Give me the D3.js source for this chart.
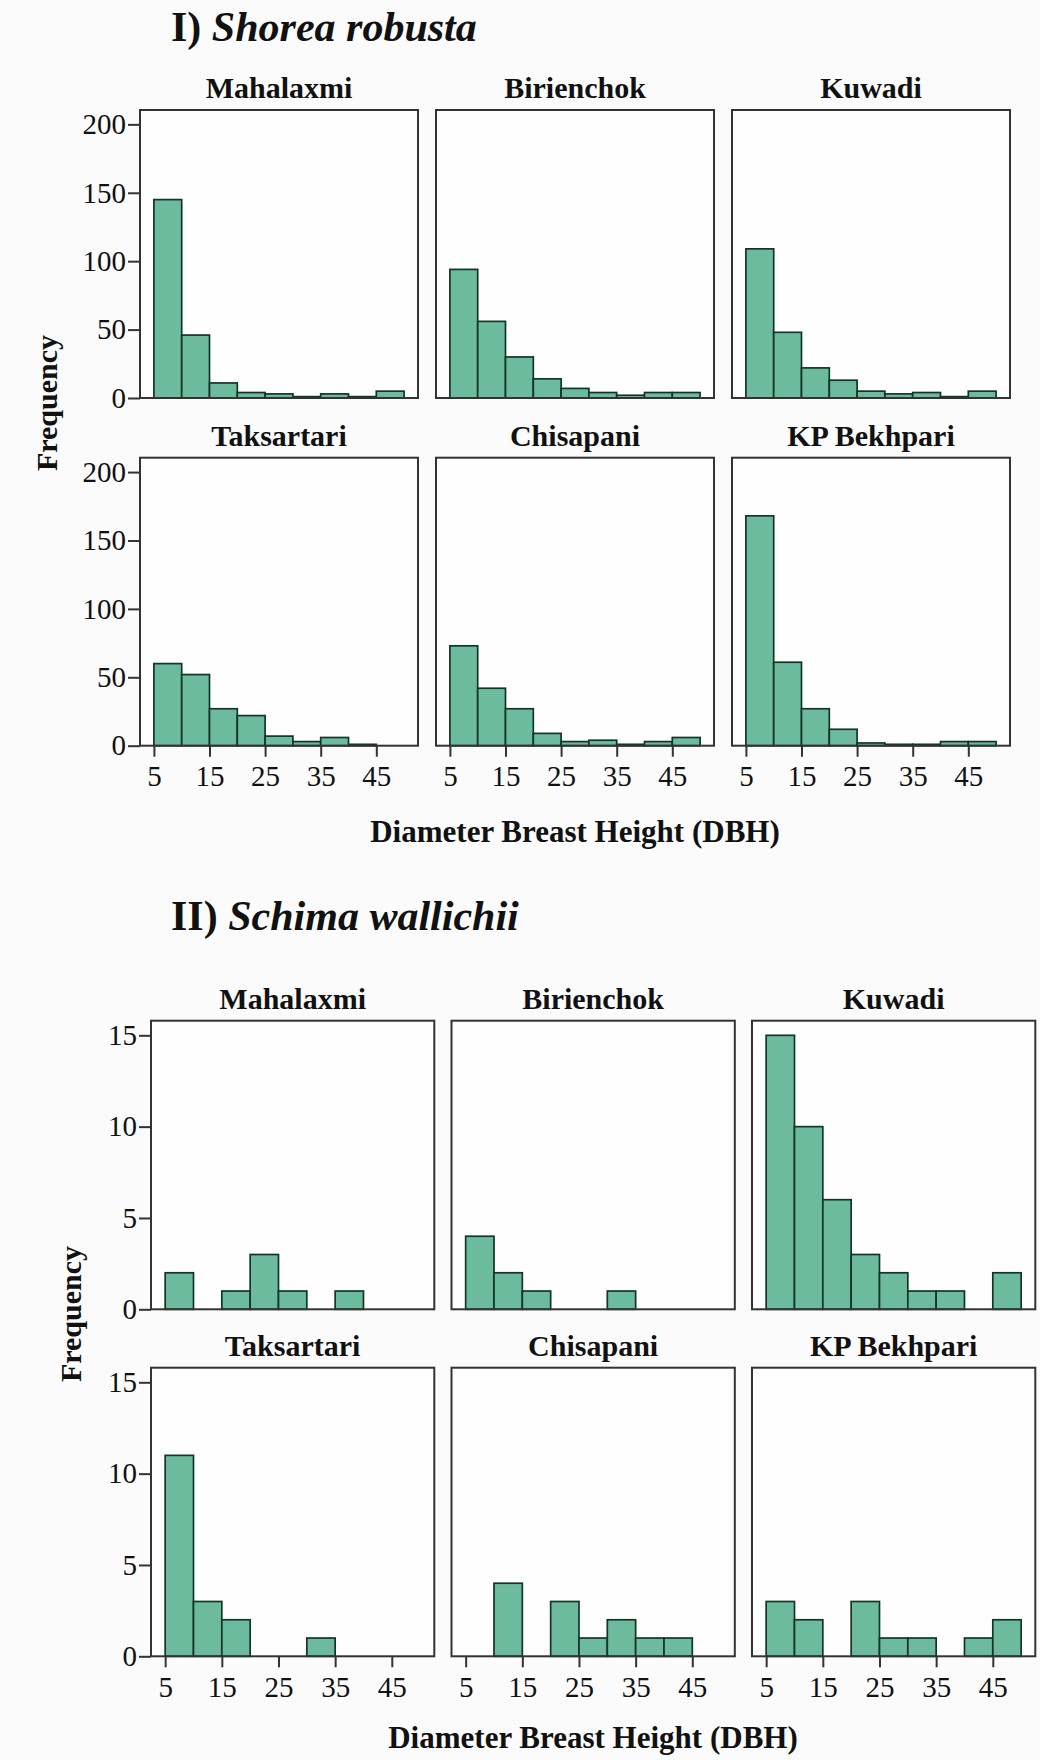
<!DOCTYPE html>
<html>
<head>
<meta charset="utf-8">
<script src="https://cdn.jsdelivr.net/npm/d3@7"></script>
<style>
  body { margin: 0; background: #fbfbfb; }
  text { font-family: "Liberation Serif", "Times New Roman", serif; fill: #111; }
</style>
</head>
<body>
<svg id="chart"></svg>
<script>
// DBH classes, 5 cm wide, starting at 5
var binStarts = [5, 10, 15, 20, 25, 30, 35, 40, 45]
var binWidth = 5
var xTicks = [5, 15, 25, 35, 45]

var sites = ['Mahalaxmi', 'Birienchok', 'Kuwadi', 'Taksartari', 'Chisapani', 'KP Bekhpari']

// Shorea robusta, trees per DBH class
var shoreaMahalaxmi  = [145, 46, 11, 4, 3, 1, 3, 1, 5]
var shoreaBirienchok = [94, 56, 30, 14, 7, 4, 2, 4, 4]
var shoreaKuwadi     = [109, 48, 22, 13, 5, 3, 4, 1, 5]
var shoreaTaksartari = [60, 52, 27, 22, 7, 3, 6, 1, 0]
var shoreaChisapani  = [73, 42, 27, 9, 3, 4, 1, 3, 6]
var shoreaBekhpari   = [168, 61, 27, 12, 2, 1, 1, 3, 3]
var shoreaYTicks = [0, 50, 100, 150, 200]

// Schima wallichii, trees per DBH class
var schimaMahalaxmi  = [2, 0, 1, 3, 1, 0, 1, 0, 0]
var schimaBirienchok = [4, 2, 1, 0, 0, 1, 0, 0, 0]
var schimaKuwadi     = [15, 10, 6, 3, 2, 1, 1, 0, 2]
var schimaTaksartari = [11, 3, 2, 0, 0, 1, 0, 0, 0]
var schimaChisapani  = [0, 4, 0, 3, 1, 2, 1, 1, 0]
var schimaBekhpari   = [3, 2, 0, 3, 1, 1, 0, 1, 2]
var schimaYTicks = [0, 5, 10, 15]

var fill = '#6dbb9f'
var barStroke = '#133528'
var frameStroke = '#333'
var serif = '"Liberation Serif", "Times New Roman", serif'

var svg = d3.select('#chart').attr('width', 1040).attr('height', 1760)

var sections = [
  {
    num: 'I) ', species: 'Shorea robusta', titleY: 41,
    counts: [shoreaMahalaxmi, shoreaBirienchok, shoreaKuwadi, shoreaTaksartari, shoreaChisapani, shoreaBekhpari],
    yMax: 210.5, yTicks: shoreaYTicks,
    left: 140, top: 110, w: 278, h: 288, colStep: 296, rowStep: 347.7,
    freqX: 57, freqY: 403, xTitleX: 575, xTitleY: 842
  },
  {
    num: 'II) ', species: 'Schima wallichii', titleY: 930,
    counts: [schimaMahalaxmi, schimaBirienchok, schimaKuwadi, schimaTaksartari, schimaChisapani, schimaBekhpari],
    yMax: 15.8, yTicks: schimaYTicks,
    left: 151, top: 1020.7, w: 283.3, h: 288.6, colStep: 300.5, rowStep: 347,
    freqX: 81, freqY: 1314, xTitleX: 593, xTitleY: 1748
  }
]

sections.forEach(function(s){
  var title = svg.append('text')
    .attr('x', 171).attr('y', s.titleY)
    .attr('font-size', 42).attr('font-weight', 700)
  title.append('tspan').text(s.num)
  title.append('tspan').attr('font-style', 'italic').text(s.species)

  var x = d3.scaleLinear().domain([2.5, 52.5]).range([0, s.w])
  var y = d3.scaleLinear().domain([0, s.yMax]).range([s.h, 0])

  sites.forEach(function(site, i){
    var col = i % 3, row = Math.floor(i / 3)
    var g = svg.append('g')
      .attr('transform', 'translate(' + (s.left + col*s.colStep) + ',' + (s.top + row*s.rowStep) + ')')

    g.append('rect')
      .attr('width', s.w).attr('height', s.h)
      .attr('fill', '#fefefe')

    g.append('text')
      .attr('x', s.w/2).attr('y', -12)
      .attr('text-anchor', 'middle')
      .attr('font-size', 30).attr('font-weight', 700)
      .text(site)

    var bins = binStarts.map(function(b, j){ return {x0: b, x1: b + binWidth, n: s.counts[i][j]} })
      .filter(function(d){ return d.n > 0 })

    g.selectAll('rect.bar').data(bins).join('rect')
      .attr('class', 'bar')
      .attr('x', function(d){ return x(d.x0) })
      .attr('width', function(d){ return x(d.x1) - x(d.x0) })
      .attr('y', function(d){ return y(d.n) })
      .attr('height', function(d){ return y(0) - y(d.n) })
      .attr('fill', fill)
      .attr('stroke', barStroke)
      .attr('stroke-width', 1.7)

    g.append('rect')
      .attr('width', s.w).attr('height', s.h)
      .attr('fill', 'none')
      .attr('stroke', frameStroke)
      .attr('stroke-width', 2)

    if (col == 0){
      var ya = g.append('g')
        .call(d3.axisLeft(y).tickValues(s.yTicks).tickSize(12).tickPadding(2).tickFormat(d3.format('d')))
      ya.select('.domain').remove()
      ya.attr('font-family', serif).attr('font-size', 29)
      ya.selectAll('line').attr('stroke', frameStroke).attr('stroke-width', 2)
      ya.selectAll('text').style('font-family', serif).attr('fill', '#111')
    }

    if (row == 1){
      var xa = g.append('g')
        .attr('transform', 'translate(0,' + s.h + ')')
        .call(d3.axisBottom(x).tickValues(xTicks).tickSize(11).tickPadding(9))
      xa.select('.domain').remove()
      xa.attr('font-family', serif).attr('font-size', 29)
      xa.selectAll('line').attr('stroke', frameStroke).attr('stroke-width', 2)
      xa.selectAll('text').style('font-family', serif).attr('fill', '#111')
    }
  })

  svg.append('text')
    .attr('transform', 'translate(' + s.freqX + ',' + s.freqY + ') rotate(-90)')
    .attr('text-anchor', 'middle')
    .attr('font-size', 30).attr('font-weight', 700)
    .text('Frequency')

  svg.append('text')
    .attr('x', s.xTitleX).attr('y', s.xTitleY)
    .attr('text-anchor', 'middle')
    .attr('font-size', 31).attr('font-weight', 700)
    .text('Diameter Breast Height (DBH)')
})
</script>
</body>
</html>
